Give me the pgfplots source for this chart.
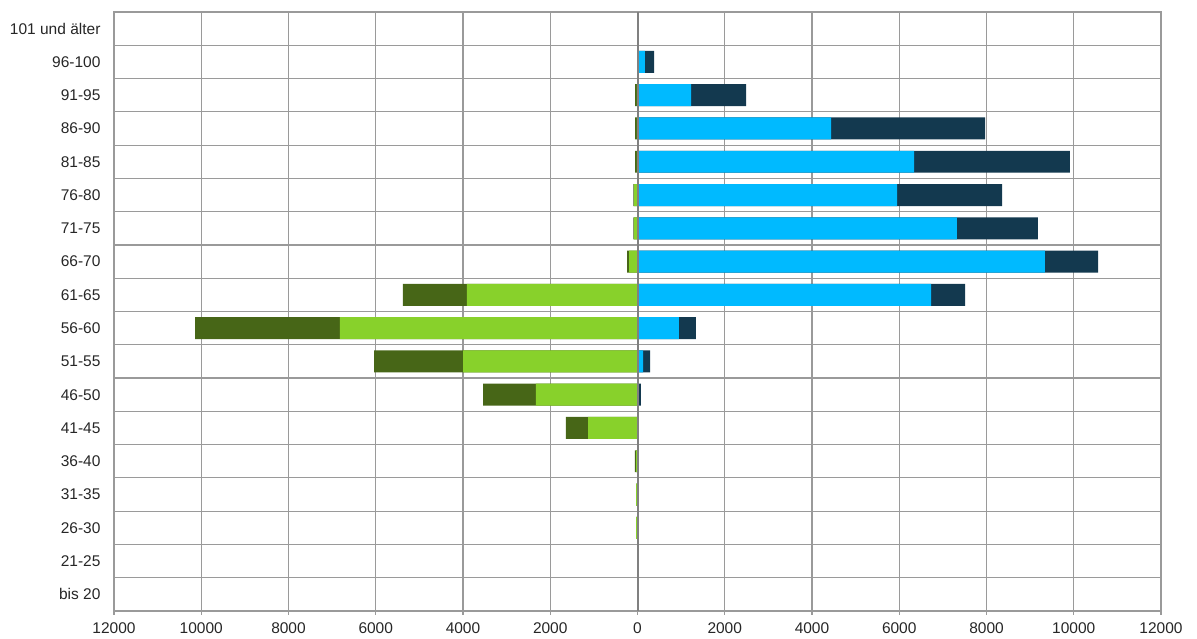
\documentclass[border=0pt]{standalone}
\usepackage{pgfplots}
\pgfplotsset{compat=1.18}
\usepackage{fontspec}
\setmainfont{Liberation Sans}
\definecolor{lblue}{HTML}{00BAFF}
\definecolor{navy}{HTML}{13394F}
\definecolor{lgreen}{HTML}{88D12B}
\definecolor{dgreen}{HTML}{476617}
\definecolor{gridc}{HTML}{9A9A9A}
\begin{document}
\begin{tikzpicture}
\begin{axis}[
  scale only axis,
  width=1047pt, height=599pt,
  xmin=-12000, xmax=12000,
  ymin=-0.5, ymax=17.5,
  xbar, bar shift=0pt, bar width=0.66,
  scaled x ticks=false,
  xtick={-12000,-10000,...,12000},
  xticklabels={12000,10000,8000,6000,4000,2000,0,2000,4000,6000,8000,10000,12000},
  ytick={0,...,17},
  yticklabels={bis 20,21-25,26-30,31-35,36-40,41-45,46-50,51-55,56-60,61-65,66-70,71-75,76-80,81-85,86-90,91-95,96-100,101 und älter},
  minor ytick={-0.5,0.5,...,17.5},
  tick pos=left,
  xmajorgrids=true, yminorgrids=true, ymajorgrids=false,
  grid style={gridc, line width=1.2pt},
  minor grid style={gridc, line width=1.2pt},
  axis line style={gridc, line width=1.2pt},
  x axis line style={line width=2pt, black!45},
  xtick style={gridc, line width=1.2pt},
  ytick style={draw=none},
  minor y tick style={draw=none},
  tick align=outside,
  major tick length=4pt,
  xticklabel style={font=\fontsize{15.5}{17}\selectfont, text=black!85, yshift=-4pt},
  yticklabel style={font=\fontsize{15.5}{17}\selectfont, text=black!85, xshift=-6pt},
  /pgf/number format/assume math mode=true,
]
% right side: total (dark) then inner (light blue)
\addplot[fill=navy, draw=none] coordinates {
 (380,16) (2490,15) (7970,14) (9910,13) (8360,12) (9180,11) (10560,10) (7510,9) (1340,8) (290,7) (80,6)};
\addplot[fill=lblue, draw=none] coordinates {
 (170,16) (1230,15) (4440,14) (6340,13) (5950,12) (7320,11) (9340,10) (6730,9) (950,8) (130,7) (20,6)};
% left side: total (dark green) then inner (light green)
\addplot[fill=dgreen, draw=none] coordinates {
 (-55,15) (-55,14) (-55,13) (-95,12) (-95,11) (-240,10) (-5380,9) (-10140,8) (-6040,7) (-3540,6) (-1640,5) (-60,4) (-30,3) (-30,2)};
\addplot[fill=lgreen, draw=none] coordinates {
 (-15,15) (-15,14) (-15,13) (-75,12) (-75,11) (-190,10) (-3910,9) (-6820,8) (-4000,7) (-2330,6) (-1130,5) (-30,4) (-30,3) (-30,2)};
% centre axis line
\draw[black!50, line width=2pt] (axis cs:0,-0.5) -- (axis cs:0,17.5);
\end{axis}
\pgfresetboundingbox
\path (-114pt,-28pt) rectangle (1083pt,611pt);
\end{tikzpicture}
\end{document}
